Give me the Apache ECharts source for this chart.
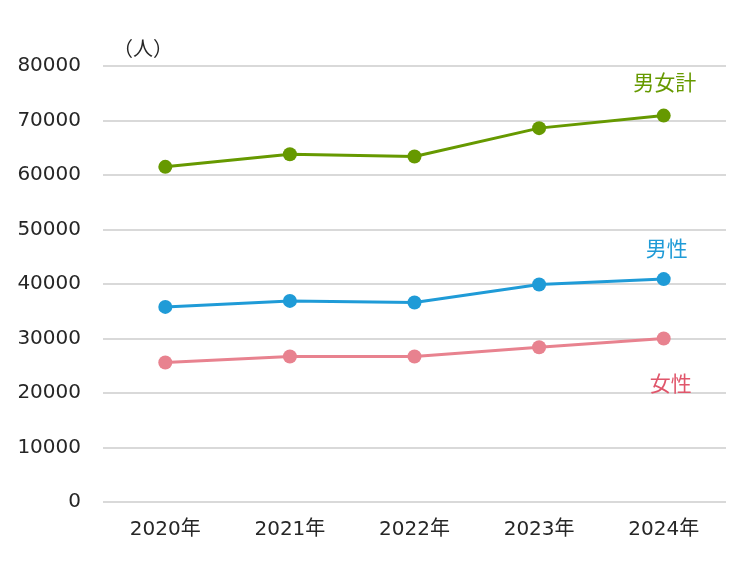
<!DOCTYPE html>
<html><head><meta charset="utf-8">
<script src="https://cdn.jsdelivr.net/npm/echarts@6/dist/echarts.min.js"></script>
<style>html,body{margin:0;padding:0;background:#fff}#c{width:750px;height:562px}</style>
</head><body><div id="c"></div>
<script>
const categories = ['2020年','2021年','2022年','2023年','2024年'];
const totalValues = [61500, 63800, 63400, 68600, 70900];
const maleValues = [35800, 36900, 36600, 39900, 40900];
const femaleValues = [25600, 26700, 26700, 28400, 30000];
const seriesNames = ['男女計','男性','女性'];
const yTicks = [0, 10000, 80000];

const font = '"DejaVu Sans","Noto Sans CJK JP",sans-serif';
const cjk = '"Noto Sans CJK JP",sans-serif';
const last = categories.length - 1;
function mk(name, data, color, textColor, pos, dist, offX) {
  return {
    name, type: 'line', data, symbol: 'circle', symbolSize: 14,
    lineStyle: {color, width: 3}, itemStyle: {color},
    label: {show: true, position: pos, distance: dist, offset: [offX, 0],
      color: textColor, fontSize: 21, fontFamily: cjk,
      formatter: p => p.dataIndex === last ? name : ''},
    emphasis: {disabled: true}, animation: false
  };
}
const chart = echarts.init(document.getElementById('c'), null, {renderer: 'canvas'});
chart.setOption({
  backgroundColor: '#fff',
  animation: false,
  grid: {left: 103, right: 24, top: 66, bottom: 60},
  xAxis: {type: 'category', data: categories, boundaryGap: true,
    axisLine: {show: false}, axisTick: {show: false},
    axisLabel: {margin: 18, color: '#262626', fontSize: 20, fontFamily: font}},
  yAxis: {type: 'value', min: yTicks[0], max: yTicks[2], interval: yTicks[1],
    name: '（人）', nameLocation: 'end', nameGap: 8,
    nameTextStyle: {color: '#262626', fontSize: 20, fontFamily: cjk, align: 'left', padding: [0,0,0,10]},
    axisLine: {show: false}, axisTick: {show: false},
    axisLabel: {color: '#262626', fontSize: 20, fontFamily: font, margin: 22,
      formatter: v => String(v)},
    splitLine: {lineStyle: {color: '#d9d9d9', width: 2}}},
  series: [
    mk(seriesNames[0], totalValues, '#669900', '#669900', 'top', 16, 1),
    mk(seriesNames[1], maleValues, '#1f9bd7', '#1f9bd7', 'top', 14, 3),
    mk(seriesNames[2], femaleValues, '#e8828f', '#e0566b', 'bottom', 27, 7)
  ]
});
</script></body></html>
